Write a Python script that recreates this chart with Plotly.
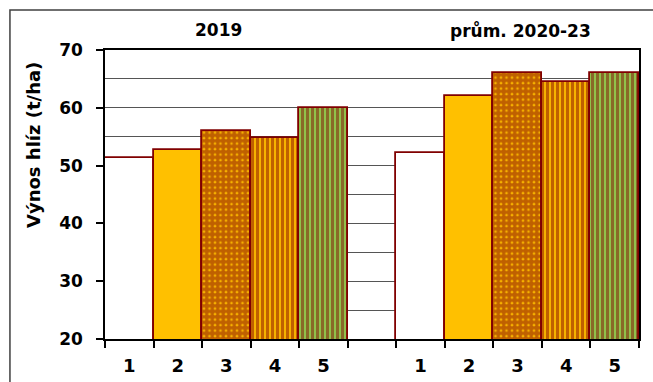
import plotly.graph_objects as go

# Tuber yield (t/ha) for five treatments: 2019 and the 2020-23 average
treatments = ["1", "2", "3", "4", "5"]
periods = ["2019", "prům. 2020-23"]
yield_2019 = [51.4, 52.7, 56.0, 54.8, 60.0]
yield_avg_2020_23 = [52.1, 62.1, 66.0, 64.4, 66.0]

y_title = "Výnos hlíz (t/ha)"
y_ticks = [20, 30, 40, 50, 60, 70]

DARK_RED = "#800000"
ORANGE = "#FFC000"
GREEN = "#92D050"
FONT = "DejaVu Sans"

# fill style per treatment
fills = [
    dict(bgcolor="white", fgcolor="white", shape="", size=5, solidity=0.5),
    dict(bgcolor=ORANGE, fgcolor=ORANGE, shape="", size=5, solidity=0.5),
    dict(bgcolor=ORANGE, fgcolor=DARK_RED, shape=".", size=5.5, solidity=0.8),
    dict(bgcolor=ORANGE, fgcolor=DARK_RED, shape="|", size=5, solidity=0.66),
    dict(bgcolor=GREEN, fgcolor=DARK_RED, shape="|", size=5, solidity=0.66),
]

n = len(treatments)
group_start = [0, n + 1]  # one empty slot between the two periods

fig = go.Figure()
for i, name in enumerate(treatments):
    vals = [yield_2019[i], yield_avg_2020_23[i]]
    xs = [g + i for g in group_start]
    fig.add_trace(go.Bar(
        x=xs, y=vals, width=1, name=name,
        marker=dict(color=fills[i]["bgcolor"],
                    line=dict(color=DARK_RED, width=1.8),
                    pattern=fills[i]),
        hovertemplate=f"{name}: %{{y}}<extra></extra>",
    ))

tick_pos = [g + i for g in group_start for i in range(n)]
tick_txt = treatments * 2
edge_pos = [g + i - 0.5 for g in group_start for i in range(n + 1)]

fig.update_layout(
    width=653, height=382,
    margin=dict(l=105, r=14, t=50, b=43),
    barmode="overlay", bargap=0,
    showlegend=False,
    plot_bgcolor="white", paper_bgcolor="white",
    font=dict(family=FONT, size=17, color="black", weight="bold"),
    xaxis=dict(
        range=[-0.5, 2 * n + 0.5], automargin=False,
        tickvals=tick_pos, ticktext=tick_txt, ticks="",
        ticklabelstandoff=10,
        showgrid=False, zeroline=False,
        showline=True, linecolor="black", linewidth=1.5, mirror=True,
        tickfont=dict(family=FONT, size=18, weight="bold"),
        minor=dict(tickvals=edge_pos, ticks="outside", ticklen=7,
                   tickcolor="black", tickwidth=1.5, showgrid=False),
    ),
    yaxis=dict(
        range=[y_ticks[0], y_ticks[-1]], tickvals=y_ticks, automargin=False,
        ticks="outside", ticklen=7, tickcolor="black", tickwidth=1.5,
        ticklabelstandoff=10,
        showline=True, linecolor="black", linewidth=1.5, mirror=True,
        zeroline=False,
        showgrid=True, gridcolor="#555555", gridwidth=1,
        minor=dict(dtick=5, showgrid=True, gridcolor="#555555", gridwidth=1, ticks=""),
        tickfont=dict(family=FONT, size=17, weight="bold"),
    ),
)

# period labels above each group
for g, label, shift in zip(group_start, periods, [-0.16, 0.05]):
    fig.add_annotation(x=g + (n - 1) / 2 + shift, xref="x", y=1.069, yref="paper",
                       xanchor="center", yanchor="middle",
                       text=label, showarrow=False,
                       font=dict(family=FONT, size=17, weight="bold"))

fig.add_annotation(x=-0.135, xref="paper", y=0.671, yref="paper",
                   xanchor="center", yanchor="middle",
                   text=y_title, textangle=-90, showarrow=False,
                   font=dict(family=FONT, size=18, weight="bold"))

# chart frame
fig.add_shape(type="rect", xref="paper", yref="paper",
              x0=-0.178, x1=1.2, y0=-0.4, y1=1.138,
              line=dict(color="#404040", width=1.5))

fig.write_html("out.html")
